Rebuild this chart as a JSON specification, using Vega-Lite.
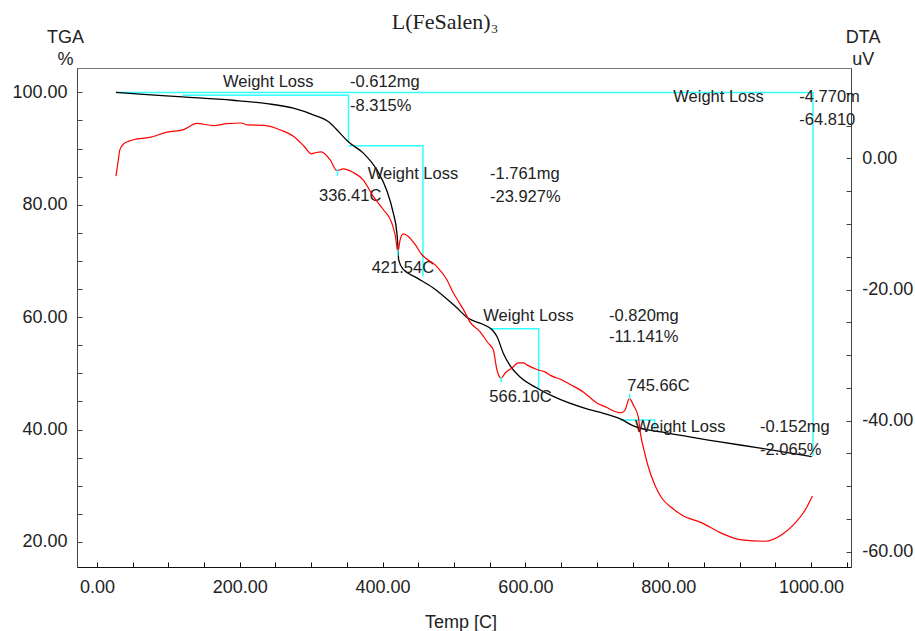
{
  "$schema": "https://vega.github.io/schema/vega-lite/v6.json",
  "width": 774,
  "height": 499,
  "autosize": {"type": "none"},
  "padding": {"left": 77, "top": 68, "right": 64, "bottom": 64},
  "background": "white",
  "title": {
    "text": "L(FeSalen)₃",
    "font": "Liberation Serif",
    "fontSize": 22,
    "fontWeight": "normal",
    "color": "#222",
    "anchor": "middle",
    "frame": "group",
    "baseline": "alphabetic",
    "offset": 0,
    "dx": -19,
    "dy": 23
  },
  "config": {
    "view": {"stroke": "#777", "strokeWidth": 1},
    "axis": {
      "grid": false,
      "labelFont": "Liberation Sans",
      "labelFontSize": 18,
      "labelColor": "#222",
      "labelOverlap": false,
      "labelFlush": false,
      "labelBound": false,
      "titleFont": "Liberation Sans",
      "titleFontSize": 18,
      "titleFontWeight": "normal",
      "titleColor": "#222",
      "tickSize": -5,
      "tickWidth": 1,
      "domainWidth": 1
    }
  },
  "datasets": {
    "tga": [
      {"t": 26.6, "v": 100.0}, {"t": 60, "v": 99.7}, {"t": 120, "v": 99.2}, {"t": 190, "v": 98.6},
      {"t": 238, "v": 98.0}, {"t": 275, "v": 97.2}, {"t": 303, "v": 96.0}, {"t": 326, "v": 94.6},
      {"t": 340, "v": 92.8}, {"t": 352, "v": 91.2}, {"t": 373, "v": 89.2}, {"t": 392, "v": 86.2},
      {"t": 406, "v": 82.5}, {"t": 415, "v": 78.5}, {"t": 420, "v": 75.0}, {"t": 421.5, "v": 72.6},
      {"t": 422.5, "v": 70.2}, {"t": 429, "v": 68.5}, {"t": 448, "v": 67.0}, {"t": 471, "v": 65.2},
      {"t": 502, "v": 61.9}, {"t": 520, "v": 59.8}, {"t": 541, "v": 58.7}, {"t": 553, "v": 57.8},
      {"t": 560, "v": 56.6}, {"t": 569, "v": 53.6}, {"t": 579, "v": 51.3}, {"t": 593, "v": 49.3},
      {"t": 616, "v": 47.4}, {"t": 639, "v": 45.9}, {"t": 686, "v": 43.7}, {"t": 704, "v": 43.1},
      {"t": 733, "v": 41.9}, {"t": 752, "v": 40.6}, {"t": 798, "v": 39.4}, {"t": 868, "v": 37.9},
      {"t": 929, "v": 36.7}, {"t": 1001, "v": 35.2}
    ],
    "dta": [
      {"t": 26.6, "v": -2.7}, {"t": 29.9, "v": -0.2}, {"t": 32, "v": 1.3}, {"t": 38, "v": 2.3},
      {"t": 44, "v": 2.6}, {"t": 51, "v": 2.85}, {"t": 74, "v": 3.2}, {"t": 98, "v": 4.0},
      {"t": 121, "v": 4.4}, {"t": 140, "v": 5.35}, {"t": 163, "v": 5.0}, {"t": 182, "v": 5.3},
      {"t": 202, "v": 5.4}, {"t": 211, "v": 5.1}, {"t": 234, "v": 5.05}, {"t": 258, "v": 4.3},
      {"t": 276, "v": 3.3}, {"t": 290, "v": 1.85}, {"t": 300, "v": 0.7}, {"t": 307, "v": 0.9},
      {"t": 314, "v": 1.0}, {"t": 327, "v": -0.3}, {"t": 336, "v": -1.85}, {"t": 345, "v": -1.6},
      {"t": 359, "v": -2.15}, {"t": 373, "v": -3.3}, {"t": 387, "v": -5.8}, {"t": 401, "v": -7.8},
      {"t": 413, "v": -9.9}, {"t": 418, "v": -11.9}, {"t": 421.4, "v": -14.3}, {"t": 424.6, "v": -12.4},
      {"t": 429, "v": -11.5}, {"t": 436, "v": -11.9}, {"t": 446, "v": -13.2}, {"t": 455, "v": -14.7},
      {"t": 460, "v": -15.2}, {"t": 476, "v": -16.5}, {"t": 490, "v": -18.5}, {"t": 499, "v": -20.5},
      {"t": 509, "v": -22.3}, {"t": 516, "v": -23.6}, {"t": 522, "v": -24.9}, {"t": 536, "v": -26.4},
      {"t": 548, "v": -28.2}, {"t": 555, "v": -29.2}, {"t": 560, "v": -32.2}, {"t": 566, "v": -33.5},
      {"t": 572, "v": -32.7}, {"t": 581, "v": -32.0}, {"t": 590, "v": -31.2}, {"t": 597, "v": -31.2},
      {"t": 602, "v": -31.5}, {"t": 616, "v": -32.2}, {"t": 628, "v": -32.6}, {"t": 635, "v": -33.1},
      {"t": 649, "v": -33.7}, {"t": 663, "v": -34.5}, {"t": 682, "v": -35.7}, {"t": 700, "v": -37.3},
      {"t": 714, "v": -38.0}, {"t": 719, "v": -38.3}, {"t": 735, "v": -38.8}, {"t": 740, "v": -38.3},
      {"t": 745.7, "v": -36.6}, {"t": 751, "v": -37.6}, {"t": 758, "v": -39.4}, {"t": 761, "v": -41.9},
      {"t": 767, "v": -44.9}, {"t": 772, "v": -47.0}, {"t": 782, "v": -50.0}, {"t": 791, "v": -51.8},
      {"t": 805, "v": -53.3}, {"t": 819, "v": -54.4}, {"t": 847, "v": -55.6}, {"t": 875, "v": -57.2},
      {"t": 903, "v": -58.2}, {"t": 936, "v": -58.4}, {"t": 959, "v": -57.4}, {"t": 978, "v": -55.6},
      {"t": 992, "v": -53.6}, {"t": 1002, "v": -51.5}
    ],
    "steps": [
      {"seg": "total", "o": 1, "t": 26.6, "v": 100.0},
      {"seg": "total", "o": 2, "t": 1002.7, "v": 100.0},
      {"seg": "total", "o": 3, "t": 1002.7, "v": 35.2},
      {"seg": "s1", "o": 1, "t": 120, "v": 99.47},
      {"seg": "s1", "o": 2, "t": 352.2, "v": 99.47},
      {"seg": "s1", "o": 3, "t": 352.2, "v": 91.3},
      {"seg": "s2", "o": 1, "t": 352.2, "v": 90.5},
      {"seg": "s2", "o": 2, "t": 456.5, "v": 90.5},
      {"seg": "s2", "o": 3, "t": 456.5, "v": 67.3},
      {"seg": "s3", "o": 1, "t": 549.4, "v": 57.95},
      {"seg": "s3", "o": 2, "t": 618.5, "v": 57.95},
      {"seg": "s3", "o": 3, "t": 618.5, "v": 47.1},
      {"seg": "s4", "o": 1, "t": 733, "v": 41.7},
      {"seg": "s4", "o": 2, "t": 781.1, "v": 41.7},
      {"seg": "s4", "o": 3, "t": 781.1, "v": 40.0}
    ],
    "peaks": [
      {"t": 336.8, "v": -1.6, "v2": -2.65},
      {"t": 421.4, "v": -13.9, "v2": -14.85},
      {"t": 566.2, "v": -33.3, "v2": -34.2},
      {"t": 746, "v": -35.9, "v2": -36.7}
    ],
    "notes": [
      {"t": 176.5, "v": 101.9, "label": "Weight Loss"},
      {"t": 354.3, "v": 101.9, "label": "-0.612mg"},
      {"t": 354.3, "v": 97.63, "label": "-8.315%"},
      {"t": 379.1, "v": 85.4, "label": "Weight Loss"},
      {"t": 550.4, "v": 85.4, "label": "-1.761mg"},
      {"t": 550.4, "v": 81.44, "label": "-23.927%"},
      {"t": 541.0, "v": 60.3, "label": "Weight Loss"},
      {"t": 717.1, "v": 60.3, "label": "-0.820mg"},
      {"t": 717.1, "v": 56.4, "label": "-11.141%"},
      {"t": 753.5, "v": 40.4, "label": "Weight Loss"},
      {"t": 928.6, "v": 40.4, "label": "-0.152mg"},
      {"t": 928.6, "v": 36.4, "label": "-2.065%"},
      {"t": 807.1, "v": 99.1, "label": "Weight Loss"},
      {"t": 983.6, "v": 99.1, "label": "-4.770m"},
      {"t": 983.6, "v": 95.1, "label": "-64.810"},
      {"t": 310.9, "v": 81.6, "label": "336.41C"},
      {"t": 384.7, "v": 68.8, "label": "421.54C"},
      {"t": 549.4, "v": 45.85, "label": "566.10C"},
      {"t": 742.7, "v": 47.7, "label": "745.66C"}
    ]
  },
  "encoding": {
    "x": {
      "field": "t",
      "type": "quantitative",
      "scale": {"domain": [-28, 1056], "nice": false, "zero": false},
      "axis": {
        "title": "Temp [C]",
        "titleX": 383.5,
        "titleY": 60,
        "titleAlign": "center",
        "titleBaseline": "alphabetic",
        "values": [0, 50, 100, 150, 200, 250, 300, 350, 400, 450, 500, 550, 600, 650, 700, 750, 800, 850, 900, 950, 1000, 1050],
        "labelExpr": "datum.value % 200 === 0 ? format(datum.value, '.2f') : ''",
        "labelPadding": 16.7,
        "domainColor": "#111",
        "tickColor": "#111"
      }
    }
  },
  "layer": [
    {
      "encoding": {
        "y": {
          "field": "v",
          "type": "quantitative",
          "scale": {"domain": [15.55, 104.34], "nice": false, "zero": false},
          "axis": {
            "orient": "left",
            "title": ["TGA", "%"],
            "titleAngle": 0,
            "titleAlign": "center",
            "titleBaseline": "alphabetic",
            "titleX": -12,
            "titleY": -25.7,
            "titleLineHeight": 22,
            "values": [20, 25, 30, 35, 40, 45, 50, 55, 60, 65, 70, 75, 80, 85, 90, 95, 100],
            "labelExpr": "datum.value % 20 === 0 ? format(datum.value, '.2f') : ''",
            "labelPadding": 15,
            "domainColor": "#444",
            "tickColor": "#444"
          }
        }
      },
      "layer": [
        {
          "data": {"name": "steps"},
          "mark": {"type": "line", "color": "#33ffff", "strokeWidth": 1.5},
          "encoding": {"detail": {"field": "seg"}, "order": {"field": "o"}}
        },
        {
          "data": {"name": "tga"},
          "mark": {"type": "line", "color": "#000000", "strokeWidth": 1.3, "interpolate": "monotone"}
        },
        {
          "data": {"name": "notes"},
          "mark": {"type": "text", "align": "left", "baseline": "middle", "font": "Liberation Sans", "fontSize": 16.5, "color": "#222"},
          "encoding": {"text": {"field": "label"}}
        }
      ]
    },
    {
      "encoding": {
        "y": {
          "field": "v",
          "type": "quantitative",
          "scale": {"domain": [-62.33, 13.79], "nice": false, "zero": false},
          "axis": {
            "orient": "right",
            "title": ["DTA", "uV"],
            "titleAngle": 0,
            "titleAlign": "center",
            "titleBaseline": "alphabetic",
            "titleX": 11.7,
            "titleY": -25.7,
            "titleLineHeight": 22,
            "values": [-60, -55, -50, -45, -40, -35, -30, -25, -20, -15, -10, -5, 0, 5, 10],
            "labelExpr": "datum.value % 20 === 0 ? (datum.value < 0 ? '-' : '') + format(abs(datum.value), '.2f') : ''",
            "labelPadding": 15.7,
            "domainColor": "#444",
            "tickColor": "#444"
          }
        }
      },
      "layer": [
        {
          "data": {"name": "dta"},
          "mark": {"type": "line", "color": "#ff0000", "strokeWidth": 1.2, "interpolate": "monotone"}
        },
        {
          "data": {"name": "peaks"},
          "mark": {"type": "rule", "color": "#33ffff", "strokeWidth": 1.5},
          "encoding": {"y2": {"field": "v2"}}
        }
      ]
    }
  ],
  "resolve": {"scale": {"y": "independent"}}
}
